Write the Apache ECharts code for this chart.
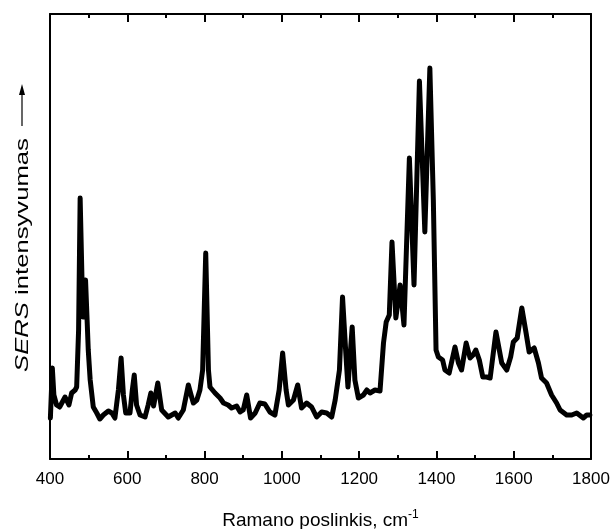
<!DOCTYPE html>
<html>
<head>
<meta charset="utf-8">
<script src="https://cdn.jsdelivr.net/npm/echarts@6/dist/echarts.min.js"></script>
<style>html,body{margin:0;padding:0;background:#fff}#c{width:614px;height:529px}</style>
</head>
<body>
<div id="c"></div>
<script>
const wavenumbers = [401,406,410,417,425,430,439,449,456,465,469,474,478,485,492,499,504,512,521,529,538,551,560,568,577,584,590,596,607,613,618,624,633,646,654,661,668,679,689,706,724,732,745,758,765,771,780,788,795,803,810,814,827,840,849,861,870,883,892,900,909,919,931,943,956,969,982,993,1002,1011,1017,1030,1041,1051,1064,1077,1090,1103,1116,1129,1138,1149,1157,1165,1171,1182,1189,1198,1211,1220,1228,1241,1254,1263,1270,1278,1285,1295,1306,1316,1330,1342,1356,1370,1383,1392,1399,1405,1416,1422,1433,1448,1457,1465,1477,1487,1495,1502,1511,1520,1530,1539,1554,1569,1582,1592,1599,1609,1621,1632,1640,1653,1664,1672,1685,1698,1711,1720,1737,1750,1763,1780,1789,1797];
const intensity = [41,91,64,54,52,53,62,54,66,69,72,129,261,142,179,109,79,52,46,40,44,48,46,41,69,101,64,46,46,69,84,54,44,42,54,66,53,76,49,42,46,41,49,74,64,56,59,69,89,206,89,72,66,61,56,54,51,53,47,49,64,41,46,56,55,47,44,69,106,69,54,59,74,51,56,52,42,47,46,42,59,89,162,109,72,132,79,61,64,69,66,69,68,116,137,144,217,141,174,134,301,174,378,227,391,259,109,102,99,89,86,112,96,89,116,101,104,109,99,82,82,81,127,96,89,102,117,121,151,126,107,111,96,81,76,64,56,49,44,44,46,41,44,44];
const xTicks = [400,600,800,1000,1200,1400,1600,1800];
const xMinorTicks = [500,700,900,1100,1300,1500,1700];
const xLabel = 'Ramano poslinkis, cm';
const yLabelItalic = 'SERS';
const yLabelRest = ' intensyvumas';

const Y_MAX = 445;
const chart = echarts.init(document.getElementById('c'));
const data = wavenumbers.map((w,i)=>[w,intensity[i]]);

// inward tick marks on bottom and top frame, placed through the axis scales
const tickSegs = [];
xTicks.forEach(v=>{
  tickSegs.push([{coord:[v,0]},{coord:[v,8]}]);
  tickSegs.push([{coord:[v,Y_MAX]},{coord:[v,Y_MAX-8]}]);
});
xMinorTicks.forEach(v=>{
  tickSegs.push([{coord:[v,0]},{coord:[v,4]}]);
  tickSegs.push([{coord:[v,Y_MAX]},{coord:[v,Y_MAX-4]}]);
});

function xAxisDef(pos, extra){
  return Object.assign({
    type:'value', min:400, max:1800, interval:200, position:pos,
    axisLine:{show:true,onZero:false,lineStyle:{color:'#000',width:2}},
    axisTick:{show:false},
    splitLine:{show:false}
  }, extra);
}
const yCommon = {type:'value',min:0,max:Y_MAX,
  axisLine:{show:true,onZero:false,lineStyle:{color:'#000',width:2}},axisTick:{show:false},axisLabel:{show:false},splitLine:{show:false}};
chart.setOption({
  animation:false,
  grid:{left:50,right:23,top:14,bottom:70,containLabel:false,outerBoundsMode:'none'},
  xAxis:[
    xAxisDef('bottom',{
      axisLabel:{show:true,color:'#000',fontFamily:'Liberation Sans, Arial',fontSize:17,margin:12,
        formatter:v=>xTicks.includes(v)?String(v):''},
      name:xLabel+'{s|-1}',nameLocation:'middle',nameGap:50,
      nameTextStyle:{color:'#000',fontFamily:'Liberation Sans, Arial',fontSize:19,
        rich:{s:{fontSize:12,verticalAlign:'top',padding:[0,0,12,0],fontFamily:'Liberation Sans, Arial',color:'#000'}}}
    }),
    xAxisDef('top',{axisLabel:{show:false}})
  ],
  yAxis:[
    Object.assign({},yCommon,{position:'left'}),
    Object.assign({},yCommon,{position:'right'})
  ],
  graphic:[
    {type:'text',x:23,y:255,rotation:Math.PI/2,
     style:{text:'{i|'+yLabelItalic+'}'+yLabelRest,fill:'#000',font:'19px "Liberation Sans", Arial',align:'center',verticalAlign:'middle',
       rich:{i:{fontStyle:'italic',fontSize:19,fontFamily:'Liberation Sans, Arial',fill:'#000'}}},
     scaleX:1.35},
    {type:'line',shape:{x1:22,y1:126,x2:22,y2:93},style:{stroke:'#000',lineWidth:1.2}},
    {type:'polygon',shape:{points:[[22,84],[19,95],[25,95]]},style:{fill:'#000'}}
  ],
  series:[{type:'line',xAxisIndex:0,yAxisIndex:0,data:data,showSymbol:false,smooth:false,clip:true,
    lineStyle:{color:'#000',width:5,join:'round',cap:'round'},
    markLine:{silent:true,symbol:['none','none'],animation:false,label:{show:false},
      lineStyle:{color:'#000',width:2,type:'solid'},emphasis:{disabled:true},data:tickSegs}
  }]
});
</script>
</body>
</html>
